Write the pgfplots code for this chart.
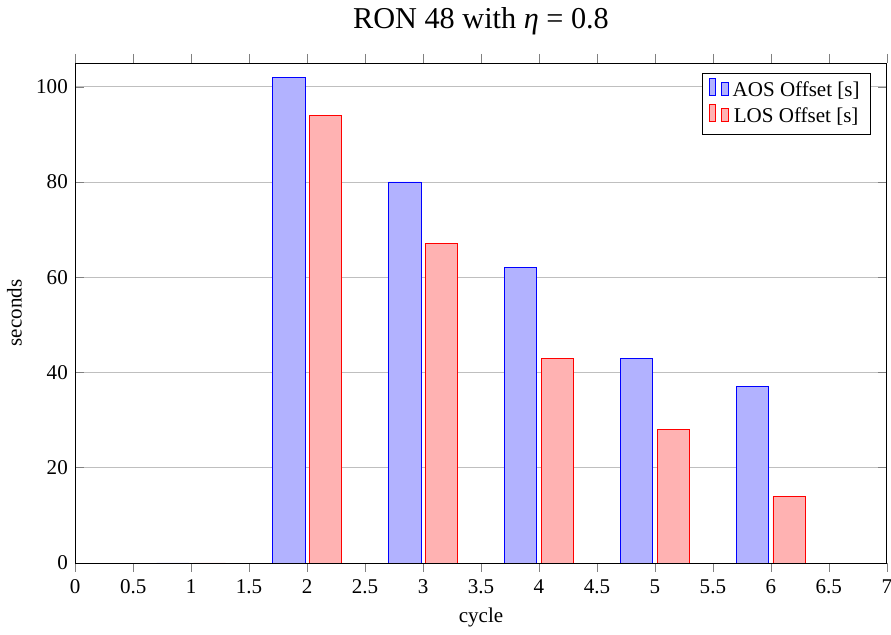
\documentclass[border=0pt]{standalone}
\usepackage{fontspec}
\setmainfont{Liberation Serif}
\usepackage{pgfplots}
\pgfplotsset{compat=1.18}
\usetikzlibrary{calc}
\begin{document}
\begin{tikzpicture}
\begin{axis}[
  scale only axis,
  width=386pt, height=237.8pt,
  ybar, bar width=0.28,
  xmin=0, xmax=7, ymin=0, ymax=105,
  xtick={0,0.5,...,7},
  ytick={0,20,...,100},
  ymajorgrids,
  xtick align=outside,
  xticklabel={\pgfmathprintnumber[assume math mode=true]{\tick}},
  yticklabel={\pgfmathprintnumber[assume math mode=true]{\tick}},
  xlabel={cycle}, ylabel={seconds},
  title={\Large RON 48 with \textit{η} = 0.8},
  title style={yshift=4pt},
  legend style={at={(0.98,0.98)}, anchor=north east},
]
\addplot+[ybar] coordinates {(1,0) (2,102) (3,80) (4,62) (5,43) (6,37)};
\addplot+[ybar] coordinates {(1,0) (2,94) (3,67) (4,43) (5,28) (6,14)};
\legend{AOS Offset [s], LOS Offset [s]}
\end{axis}
\pgfresetboundingbox
\path[use as bounding box] (current axis.outer south west) rectangle ($(current axis.outer north east -| current axis.east)+(2pt,0)$);
\end{tikzpicture}
\end{document}
